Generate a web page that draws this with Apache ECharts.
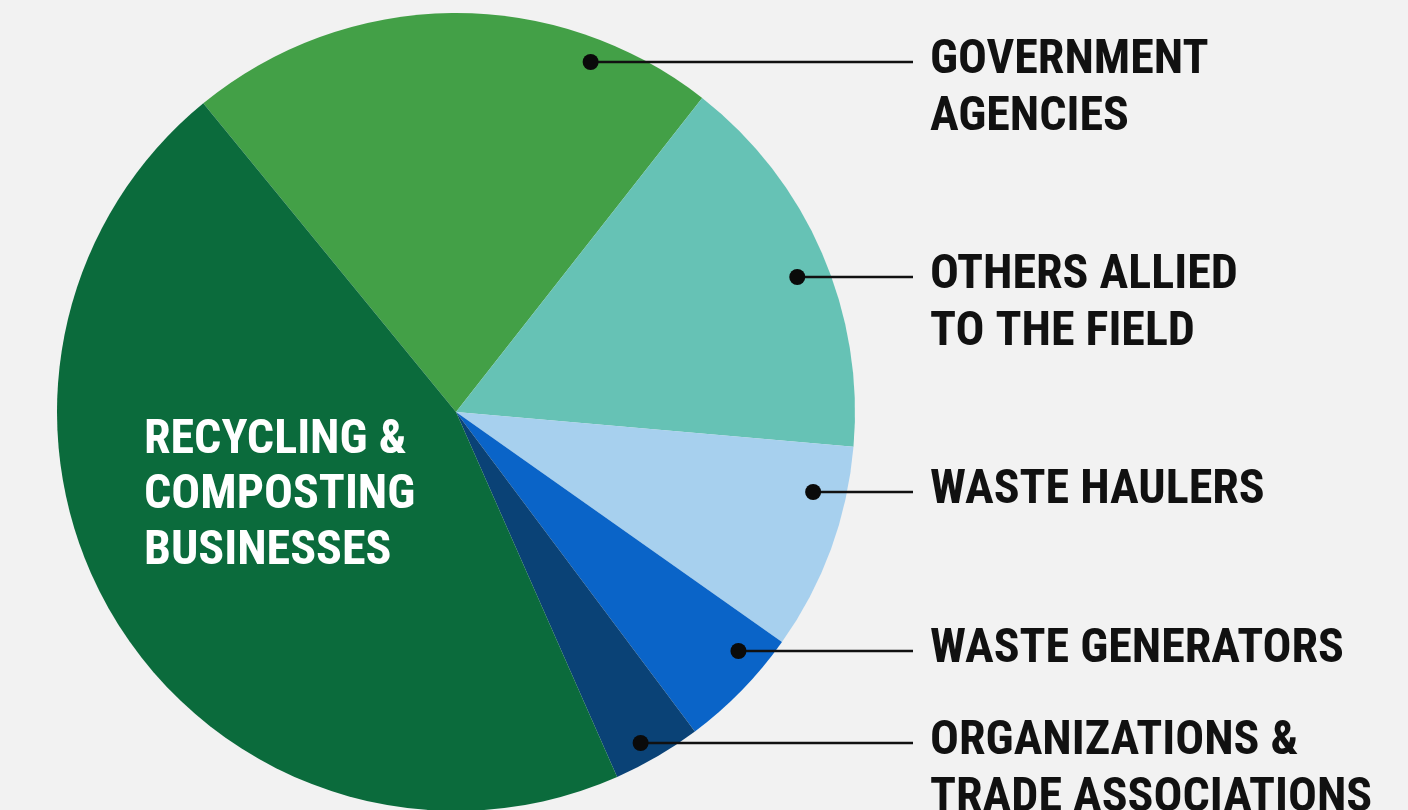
<!DOCTYPE html>
<html>
<head>
<meta charset="utf-8">
<script src="https://cdn.jsdelivr.net/npm/echarts@6/dist/echarts.min.js"></script>
<style>
html,body{margin:0;padding:0;background:#f2f2f2;}
#main{width:1408px;height:810px;}
</style>
</head>
<body>
<div id="main"></div>
<script>
// data, clockwise from the top-left edge of the light green slice
var categories = ['GOVERNMENT\nAGENCIES', 'OTHERS ALLIED\nTO THE FIELD', 'WASTE HAULERS',
	'WASTE GENERATORS', 'ORGANIZATIONS &\nTRADE ASSOCIATIONS', 'RECYCLING &\nCOMPOSTING\nBUSINESSES'];
var shares = [21.5, 15.8, 8.4, 5.0, 3.6, 45.7];
var colors = ['#43a047', '#66c2b5', '#a7d0ee', '#0a64c8', '#0a4276', '#0b6b3c'];

// label layout (pixels)
var cx = 456, cy = 412, R = 399;
var lineY = [62, 277, 492, 651, 743];
var dotR = [375, 367, 366, 370, 379];
var lineEndX = 913, textX = 930, lineH = 57, innerLineH = 55.5;

function dotX(i) {
	var dy = lineY[i] - cy;
	return cx + Math.sqrt(dotR[i] * dotR[i] - dy * dy);
}

var pieData = [];
for (var i = 0; i < shares.length; i++) {
	var d = { name: categories[i], value: shares[i], itemStyle: { color: colors[i] } };
	if (i == shares.length - 1) {
		d.label = { position: 'inside', color: '#ffffff', lineHeight: innerLineH };
	}
	pieData.push(d);
}

// leader lines with a dot at the inner end
var leaders = [];
for (var i = 0; i < lineY.length; i++) {
	leaders.push({
		type: 'line',
		z: 99,
		shape: { x1: dotX(i), y1: lineY[i], x2: lineEndX, y2: lineY[i] },
		style: { stroke: '#111111', lineWidth: 2.5 }
	});
	leaders.push({
		type: 'circle',
		z: 100,
		shape: { cx: dotX(i), cy: lineY[i], r: 8 },
		style: { fill: '#0a0a0a' }
	});
}

var myChart = echarts.init(document.getElementById('main'));
var option = {
	backgroundColor: '#f2f2f2',
	animation: false,
	graphic: leaders,
	series: [{
		type: 'pie',
		center: [cx, cy],
		radius: R,
		startAngle: 129.3,
		clockwise: true,
		silent: true,
		data: pieData,
		label: {
			show: true,
			position: 'outside',
			formatter: '{b}',
			color: '#111111',
			fontFamily: 'Roboto',
			fontWeight: 'bold condensed',
			fontSize: 48,
			lineHeight: lineH
		},
		labelLine: { show: false },
		labelLayout: function(params) {
			var i = params.dataIndex;
			if (i == shares.length - 1) {
				return { x: 144, y: 440.5 - innerLineH / 2, align: 'left', verticalAlign: 'top' };
			}
			return {
				x: textX,
				y: lineY[i] - 1 - lineH / 2,
				align: 'left',
				verticalAlign: 'top'
			};
		}
	}]
};
myChart.setOption(option);
</script>
</body>
</html>
